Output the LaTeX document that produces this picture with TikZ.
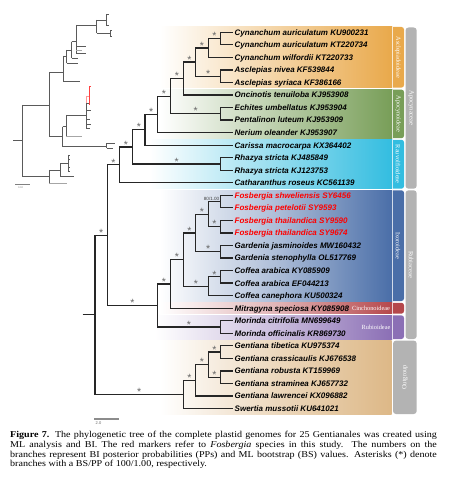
\documentclass[tikz,border=0pt]{standalone}
\usepackage{fontspec}
\newfontfamily\lsans{Liberation Sans}
\newfontfamily\lserif{Liberation Serif}
\newfontfamily\capserif{Liberation Serif}[FakeStretch=1.12]
\usetikzlibrary{calc}
\definecolor{colAsc}{HTML}{E9A94B}
\definecolor{colApo}{HTML}{789E58}
\definecolor{colRau}{HTML}{33BDE0}
\definecolor{colIxo}{HTML}{4A6EA8}
\definecolor{colCin}{HTML}{B5474B}
\definecolor{colRub}{HTML}{8B6FB5}
\definecolor{colOut}{HTML}{DDB887}
\definecolor{colFam}{HTML}{B3B3B3}
\definecolor{colIns}{HTML}{5A5A5A}
\begin{document}
\begin{tikzpicture}[x=1pt,y=-1pt,
  brline/.style={line width=1.25pt, draw=black!85},
  taxon/.style={anchor=west, inner sep=0, text height=5.8pt, text depth=0pt,
    font=\lsans\bfseries\itshape\fontsize{8}{9}\selectfont},
  redtaxon/.style={taxon, text=red},
  supstar/.style={pos=0.75, above, inner sep=0pt, yshift=-1.8pt, text=black!60,
    font=\lsans\fontsize{10.5}{10.5}\selectfont},
  sublab/.style={inner sep=0, text=white, font=\lserif\fontsize{6.3}{7}\selectfont},
  famlab/.style={inner sep=0, text=white, font=\lserif\fontsize{6.5}{7}\selectfont},
  insline/.style={line width=0.6pt, draw=colIns},
  inslight/.style={line width=0.6pt, draw=black!35},
  captxt/.style={anchor=base west, inner sep=0, font=\capserif\fontsize{9}{9.6}\selectfont}
]
\useasboundingbox (0,0) rectangle (448,494);
\fill[white] (0,0) rectangle (448,494);

% ---------- coloured panels ----------
\fill[colAsc, rounded corners=2.5pt] (385,27) rectangle (404,87.6);
\shade[left color=white, right color=colAsc, middle color=colAsc!50] (160,27) rectangle (392,87.6);
\fill[colApo, rounded corners=2.5pt] (385,89.6) rectangle (404,138.2);
\shade[left color=white, right color=colApo, middle color=colApo!50] (160,89.6) rectangle (392,138.2);
\fill[colRau, rounded corners=2.5pt] (385,139.8) rectangle (404,188.7);
\shade[left color=white, right color=colRau, middle color=colRau!50] (150,139.8) rectangle (392,188.7);
\fill[colIxo, rounded corners=2.5pt] (385,190.3) rectangle (404,301.0);
\shade[left color=white, right color=colIxo, middle color=colIxo!45] (160,190.3) rectangle (392,301.0);
\fill[colCin, rounded corners=2.5pt] (385,302.8) rectangle (404,313.6);
\shade[left color=white, right color=colCin, middle color=colCin!40] (160,302.8) rectangle (392,313.6);
\fill[colRub, rounded corners=2.5pt] (385,315.4) rectangle (404,339.0);
\shade[left color=white, right color=colRub, middle color=colRub!45] (155,315.4) rectangle (392,339.0);
\shade[left color=white, right color=colOut, middle color=colOut!55] (160,340.6) rectangle (391.5,414);
\foreach \ya/\yb in {27/87.6, 89.6/138.2, 139.8/188.7, 190.3/301.0, 302.8/313.6, 315.4/339.0}
  \draw[white, line width=0.7pt, opacity=0.75] (392,\ya) -- (392,\yb);

% family bars
\fill[colFam, rounded corners=3pt] (405.5,27.5) rectangle (416.7,188.7);
\fill[colFam, rounded corners=3pt] (405.5,190.3) rectangle (416.7,339.0);
\fill[colFam, rounded corners=3pt] (393,340.6) rectangle (416.7,414);

% panel labels
\node[sublab, rotate=-90] (lAsc) at (398,57.3) {Asclepiadoideae};
\node[sublab, rotate=-90] (lApo) at (398,113.9) {Apocynoideae};
\node[sublab, rotate=-90] (lRau) at (398,164.2) {Rauvolfioideae};
\node[sublab, rotate=-90] (lIxo) at (398,245.6) {Ixoroideae};
\node[sublab] (lCin) at (371,308.4) {Cinchonoideae};
\node[sublab] (lRub) at (376,327.4) {Rubioideae};
\node[famlab, rotate=-90] (lApc) at (411.1,108) {Apocynaceae};
\node[famlab, rotate=-90] (lRbc) at (411.1,264.6) {Rubiaceae};
\node[famlab, rotate=90] (lOut) at (404.9,377.3) {Outgroup};

% ---------- taxa ----------
\foreach \i/\txt/\sty in {
 1/Cynanchum auriculatum KU900231/taxon,
 2/Cynanchum auriculatum KT220734/taxon,
 3/Cynanchum wilfordii KT220733/taxon,
 4/Asclepias nivea KF539844/taxon,
 5/Asclepias syriaca KF386166/taxon,
 6/Oncinotis tenuiloba KJ953908/taxon,
 7/Echites umbellatus KJ953904/taxon,
 8/Pentalinon luteum KJ953909/taxon,
 9/Nerium oleander KJ953907/taxon,
 10/Carissa macrocarpa KX364402/taxon,
 11/Rhazya stricta KJ485849/taxon,
 12/Rhazya stricta KJ123753/taxon,
 13/Catharanthus roseus KC561139/taxon,
 14/Fosbergia shweliensis SY6456/redtaxon,
 15/Fosbergia petelotii SY9593/redtaxon,
 16/Fosbergia thailandica SY9590/redtaxon,
 17/Fosbergia thailandica SY9674/redtaxon,
 18/Gardenia jasminoides MW160432/taxon,
 19/Gardenia stenophylla OL517769/taxon,
 20/Coffea arabica KY085909/taxon,
 21/Coffea arabica EF044213/taxon,
 22/Coffea canephora KU500324/taxon,
 23/Mitragyna speciosa KY085908/taxon,
 24/Morinda citrifolia MN699649/taxon,
 25/Morinda officinalis KR869730/taxon,
 26/Gentiana tibetica KU975374/taxon,
 27/Gentiana crassicaulis KJ676538/taxon,
 28/Gentiana robusta KT159969/taxon,
 29/Gentiana straminea KJ657732/taxon,
 30/Gentiana lawrencei KX096882/taxon,
 31/Swertia mussotii KU641021/taxon}
{
  \pgfmathsetmacro\yy{32.3+(\i-1)*12.54}
  \node[\sty] (t\i) at (234.5,\yy) {\txt};
}

% ---------- internal nodes ----------
\coordinate (c12) at (220.5,38.57);
\coordinate (c123) at (208.3,47.98);
\coordinate (c45) at (220.5,76.19);
\coordinate (cAs) at (195.7,62.08);
\coordinate (cAs6) at (183.3,78.54);
\coordinate (c78) at (220.5,113.81);
\coordinate (cAp1) at (170.7,96.18);
\coordinate (cAp) at (157.3,114.4);
\coordinate (cX1) at (145,129.78);
\coordinate (c1112) at (220.5,163.97);
\coordinate (cX2) at (132.7,146.88);
\coordinate (cX3) at (119.3,164.83);
\coordinate (c1415) at (220.5,201.59);
\coordinate (c1617) at (220.5,226.67);
\coordinate (cFos) at (208.3,214.13);
\coordinate (c1819) at (220.5,251.75);
\coordinate (cFG) at (195.7,232.94);
\coordinate (c2021) at (220.5,276.83);
\coordinate (cCof) at (208.3,286.24);
\coordinate (cIx) at (183.3,259.59);
\coordinate (cIxM) at (170.7,283.89);
\coordinate (c2425) at (220.5,326.99);
\coordinate (cRub) at (157.3,305.44);
\coordinate (cIn) at (107.3,235.14);
\coordinate (c2627) at (220.5,352.07);
\coordinate (c2829) at (220.5,377.15);
\coordinate (cG4) at (208.3,364.61);
\coordinate (cG5) at (195.7,380.29);
\coordinate (cOut) at (183.3,394.4);
\coordinate (root) at (95,314.77);
\coordinate (rstub) at (82.7,314.77);

% tip branches
\foreach \p/\c in {c12/1, c12/2, c123/3, c45/4, c45/5, cAs6/6, c78/7, c78/8, cAp/9,
  cX1/10, c1112/11, c1112/12, cX3/13, c1415/14, c1415/15, c1617/16, c1617/17,
  c1819/18, c1819/19, c2021/20, c2021/21, cCof/22, cIxM/23, c2425/24, c2425/25,
  c2627/26, c2627/27, c2829/28, c2829/29, cG5/30, cOut/31}
  \draw[brline] (\p) |- ([xshift=-2pt]t\c.west);

% internal branches with support
\foreach \p/\c in {c123/c12, cAs/c123, cAs/c45, cAs6/cAs, cAp1/cAs6, cAp1/c78,
  cAp/cAp1, cX1/cAp, cX2/cX1, cX2/c1112, cX3/cX2, cIn/cX3,
  cFos/c1617, cFG/cFos, cFG/c1819, cCof/c2021, cIx/cFG, cIx/cCof,
  cIxM/cIx, cRub/cIxM, cRub/c2425, cIn/cRub,
  cG4/c2627, cG4/c2829, cG5/cG4, cOut/cG5, root/cIn, root/cOut}
  \draw[brline] (\p) |- node[supstar] {*} (\c);
\draw[brline] (cFos) |- node[pos=1, anchor=south east, inner sep=0.6pt, text=black!75,
  font=\lsans\fontsize{4.6}{5}\selectfont] (bs) {80/1.00} (c1415);
\draw[brline] (rstub) -- (root);

% scale bar
\coordinate (sb1) at (94.3,419);
\coordinate (sb2) at (119.3,419);
\draw[line width=1.2pt, draw=black!45] (sb1) -- (sb2);
\node[inner sep=0, text=black!60, font=\lsans\fontsize{4}{4}\selectfont] (sbl) at (98.5,423.5) {2.0};

% ---------- inset phylogram ----------
\draw[insline] (13.3,140.7) -- (22.3,140.7)
 (22.3,105) -- (22.3,176)
 (22.3,105) -- (49.3,105)
 (22.3,176) -- (49.3,176)
 (49.3,170) -- (49.3,183.3)
 (49.3,170) -- (60,170)
 (60,163.3) -- (60,176.7)
 (60,176.7) -- (74,176.7)
 (60,163.3) -- (68.3,163.3)
 (68.3,155) -- (68.3,171.7)
 (68.3,155) -- (70,155) (68.3,159) -- (69.5,159) (68.3,167) -- (70,167) (68.3,171.7) -- (70,171.7)
 (49.3,72.7) -- (49.3,136.7)
 (49.3,72.7) -- (63.3,72.7)
 (63.3,56) -- (63.3,81)
 (63.3,81) -- (80,81)
 (63.3,56) -- (66.7,56)
 (66.7,50) -- (66.7,63)
 (66.7,63) -- (78,63)
 (66.7,50) -- (71.7,50)
 (71.7,41.7) -- (71.7,58.3)
 (71.7,58.3) -- (78,58.3)
 (71.7,41.7) -- (76,41.7)
 (76,25) -- (76,53.3)
 (76,46.7) -- (86,46.7)
 (76,53.3) -- (86,53.3)
 (76,25) -- (96.7,25)
 (96.7,20) -- (96.7,33.3)
 (96.7,20) -- (106,20)
 (106,14) -- (106,25)
 (106,14) -- (109,14) (106,25) -- (109,25)
 (96.7,33.3) -- (110,33.3)
 (110,30.7) -- (110,36)
 (110,30.7) -- (112,30.7) (110,36) -- (112,36)
 (49.3,136.7) -- (62.7,136.7)
 (62.7,126.7) -- (62.7,146.7)
 (62.7,146.7) -- (106.7,146.7)
 (106.7,143.3) -- (106.7,148.3)
 (106.7,143.3) -- (115,143.3) (106.7,148.3) -- (113,148.3)
 (62.7,126.7) -- (66,126.7)
 (66,115) -- (66,136.7)
 (66,115) -- (86,115)
 (86,103.3) -- (86,128)
 (86,110) -- (91,110) (86,119) -- (90,119) (86,124) -- (91,124) (86,128) -- (90,128)
 (86,103.3) -- (89.3,103.3);
\draw[inslight] (66,136.7) -- (81.7,136.7) (76,50) -- (82,50) (49.3,183.3) -- (66.7,183.3);
\draw[line width=0.6pt, draw=red!75] (89.3,86.7) -- (89.3,105) (89.3,86.7) -- (90.5,86.7);
\draw[line width=0.6pt, draw=red!40] (86,96) -- (89.3,96) (86,96) -- (86,103.3);
\coordinate (isb1) at (15,184.3);
\coordinate (isb2) at (30,184.3);
\draw[line width=0.6pt, draw=black!50] (isb1) -- (isb2);
\node[inner sep=0, text=black!50, font=\lsans\fontsize{2.5}{2.5}\selectfont] (isbl) at (20.5,187.2) {0.02};

% ---------- caption ----------
\node[captxt] (cap1) at (10,437.7) {\makebox[426.7pt][s]{\textbf{Figure 7.} The phylogenetic tree of the complete plastid genomes for 25 Gentianales was created using}};
\node[captxt] (cap2) at (10,447.3) {\makebox[426.7pt][s]{ML analysis and BI. The red markers refer to \textit{Fosbergia} species in this study. The numbers on the}};
\node[captxt] (cap3) at (10,457.0) {\makebox[426.7pt][s]{branches represent BI posterior probabilities (PPs) and ML bootstrap (BS) values. Asterisks (*) denote}};
\node[captxt] (cap4) at (10,466.3) {branches with a BS/PP of 100/1.00, respectively.};
\end{tikzpicture}
\end{document}
